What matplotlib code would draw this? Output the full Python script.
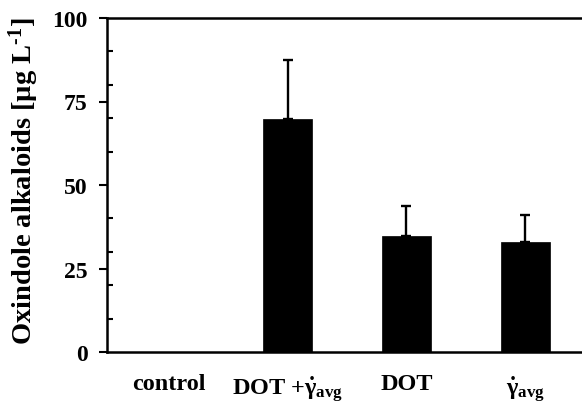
import matplotlib
matplotlib.use("Agg")
import matplotlib.pyplot as plt
from matplotlib.ticker import MultipleLocator

categories = ["control", r"DOT +$\dot{\gamma}_{\mathbf{avg}}$", "DOT", r"$\dot{\gamma}_{\mathbf{avg}}$"]
values = [0.0, 69.7, 34.7, 32.8]
errors = [0.0, 17.8, 9.0, 8.2]
yticks = [0, 25, 50, 75, 100]

plt.rcParams['font.family'] = ['Liberation Serif', 'DejaVu Serif']
plt.rcParams['font.weight'] = 'bold'
plt.rcParams['mathtext.fontset'] = 'custom'
plt.rcParams['mathtext.rm'] = 'Liberation Serif:bold'
plt.rcParams['mathtext.it'] = 'Liberation Serif:bold'
plt.rcParams['mathtext.bf'] = 'Liberation Serif:bold'

fig = plt.figure(figsize=(5.82, 4.06), dpi=100)
ax = fig.add_axes([107/582, 53/406, 480/582, 334/406])

x = list(range(len(categories)))
ax.bar(x, values, width=0.41, color='black', edgecolor='black', linewidth=0.5, zorder=2)
err_x = [xi for xi, e in zip(x, errors) if e > 0]
err_v = [v for v, e in zip(values, errors) if e > 0]
err_e = [e for e in errors if e > 0]
ax.errorbar(err_x, err_v, yerr=[[0]*len(err_e), err_e], fmt='none', ecolor='black',
            elinewidth=1.7, capsize=3.3, capthick=1.7, zorder=3)

ax.set_xlim(-0.52, 3.52)
ax.set_ylim(0, 100)
ax.set_yticks(yticks)
ax.yaxis.set_minor_locator(MultipleLocator(10))
ax.set_xticks(x)
ax.set_xticklabels(categories, fontsize=17.5, fontweight='bold')

for s in ['left', 'top', 'bottom']:
    ax.spines[s].set_linewidth(1.8)
ax.spines['right'].set_visible(False)

ax.tick_params(axis='y', which='major', direction='out', length=5.8, width=1.5,
               labelsize=17, pad=8)
ax.tick_params(axis='y', which='minor', direction='in', length=4.3, width=1.5)
ax.tick_params(axis='x', which='both', length=0, pad=15)
for lab in ax.get_yticklabels():
    lab.set_fontweight('bold')

ax.set_ylabel("Oxindole alkaloids [µg L$^{\\mathbf{\u2010}1}$]", fontsize=20.5, fontweight='bold')
ax.yaxis.set_label_coords(-0.138, 0.515)

fig.savefig("out.png", dpi=100)
